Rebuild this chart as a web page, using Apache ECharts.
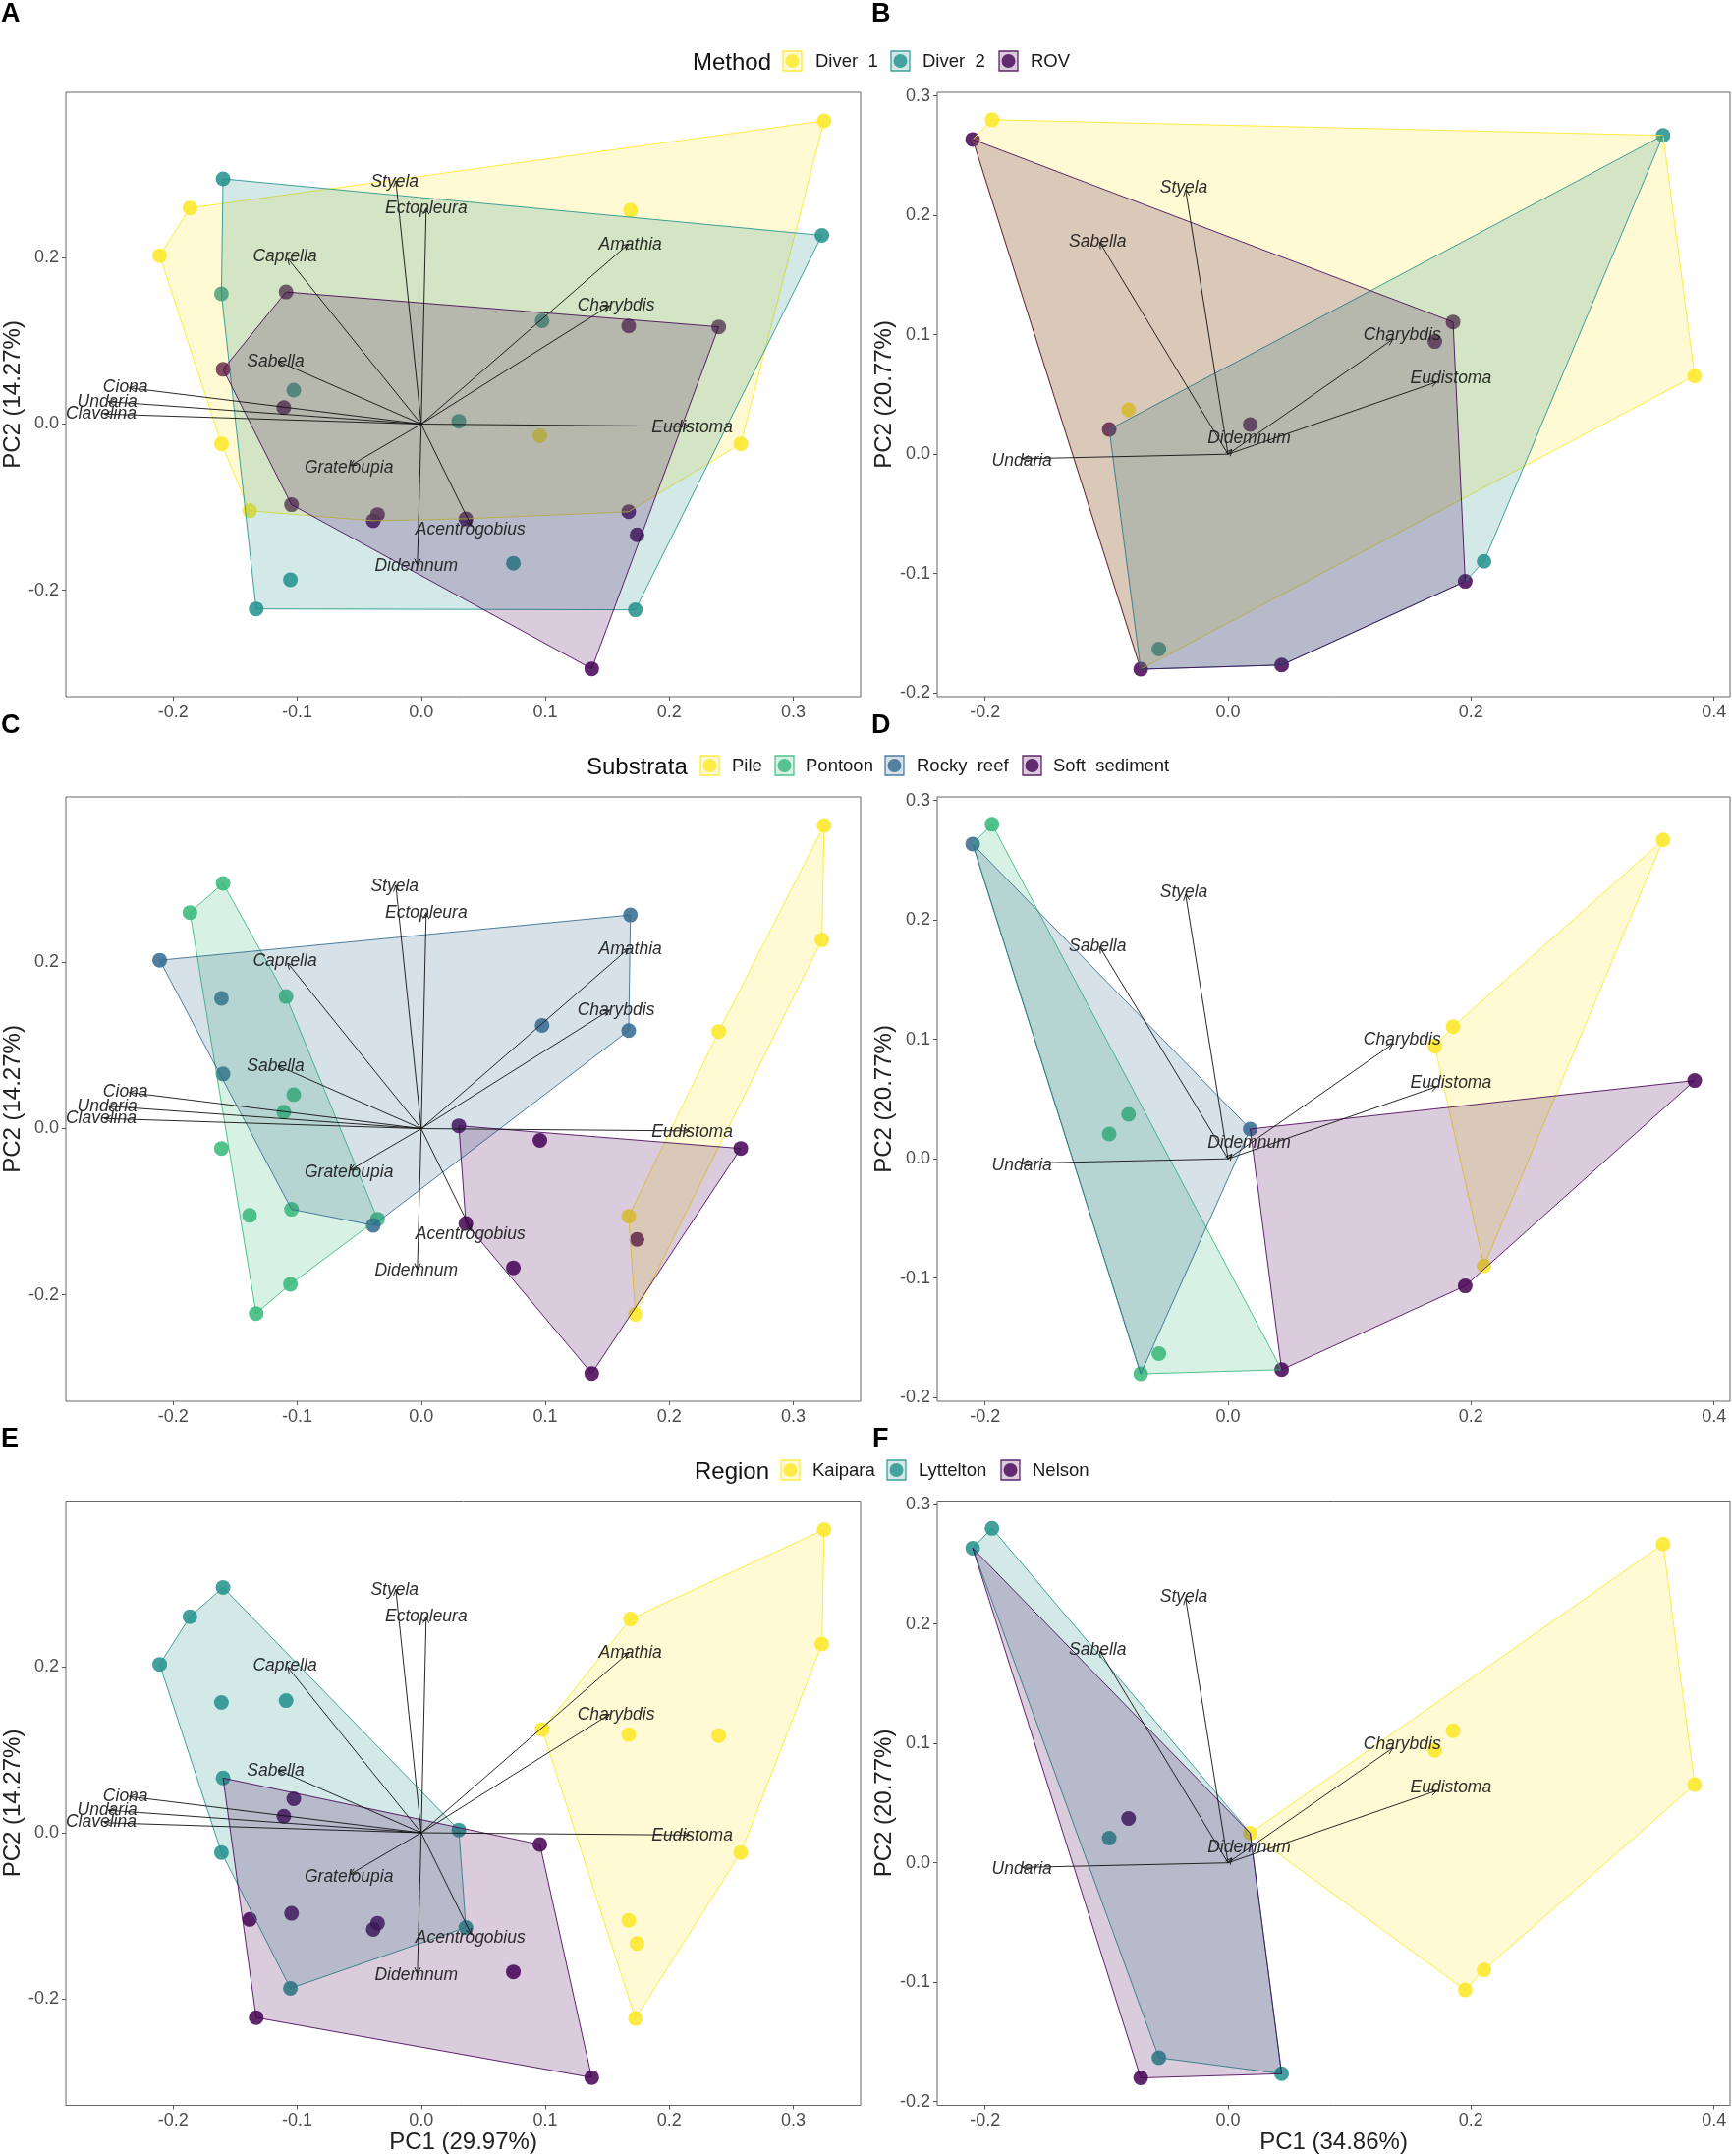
<!DOCTYPE html>
<html>
<head>
<meta charset="utf-8">
<script src="https://cdn.jsdelivr.net/npm/echarts@6/dist/echarts.min.js"></script>
<style>
html,body{margin:0;padding:0;background:#fff}
#main{width:1763px;height:2194px}
</style>
</head>
<body>
<div id="main"></div>
<script>
// site scores, left column (ids 1..30)
var pc1Left = [0.3249,0.1687,0.0975,0.1673,0.2399,0.3231,0.2577,0.1673,0.1740,0.1727,
  -0.1598,-0.1865,-0.2109,-0.1611,-0.1090,-0.1598,-0.1611,0.0303,0.0360,-0.1055,
  -0.1028,-0.1108,0.0957,-0.1384,-0.1046,-0.0352,-0.0387,0.0743,-0.1331,0.1375];
var pc2Left = [0.3648,0.2570,0.1243,0.1180,0.1169,0.2270,-0.0238,-0.1055,-0.1333,-0.2235,
  0.2950,0.2599,0.2026,0.1566,0.1589,0.0658,-0.0238,0.0034,-0.1140,-0.1872,
  0.0409,0.0199,-0.0142,-0.1044,-0.0970,-0.1089,-0.1163,-0.1674,-0.2224,-0.2945];
// site scores, right column (ids 1..14)
var pc1Right = [-0.1943,-0.2102,0.3581,0.3841,0.1852,0.1702,-0.0819,-0.0978,0.0182,0.2107,0.1952,0.0441,-0.0569,-0.0719];
var pc2Right = [0.2801,0.2636,0.2670,0.0655,0.1107,0.0943,0.0372,0.0207,0.0249,-0.0897,-0.1065,-0.1766,-0.1632,-0.1801];

// loadings
var speciesLeft = ['Styela','Ectopleura','Caprella','Amathia','Charybdis','Sabella','Ciona','Undaria','Clavelina','Eudistoma','Grateloupia','Acentrogobius','Didemnum'];
var tipXLeft = [-0.0205,0.0040,-0.1077,0.1673,0.1518,-0.1153,-0.2354,-0.2523,-0.2554,0.2163,-0.0574,0.0405,-0.0031];
var tipYLeft = [0.2927,0.2597,0.1992,0.2168,0.1425,0.0754,0.0435,0.0270,0.0121,-0.0028,-0.0501,-0.1227,-0.1695];
var labelXLeft = [-0.0214,0.0040,-0.1099,0.1687,0.1571,-0.1175,-0.2385,-0.2532,-0.2581,0.2185,-0.0583,0.0396,-0.0040];
var labelYLeft = [0.2916,0.2597,0.2014,0.2162,0.1420,0.0748,0.0440,0.0270,0.0127,-0.0039,-0.0528,-0.1271,-0.1711];
var speciesRight = ['Styela','Sabella','Charybdis','Eudistoma','Didemnum','Undaria'];
var tipXRight = [-0.0350,-0.1056,0.1356,0.1720,0.0030,-0.1693];
var tipYRight = [0.2215,0.1774,0.0962,0.0605,0.0040,-0.0038];
var labelXRight = [-0.0364,-0.1074,0.1433,0.1834,0.0173,-0.1697];
var labelYRight = [0.2230,0.1782,0.0996,0.0632,0.0130,-0.0057];

// legend levels
var methodLevels = ['Diver  1','Diver  2','ROV'];
var substrataLevels = ['Pile','Pontoon','Rocky  reef','Soft  sediment'];
var regionLevels = ['Kaipara','Lyttelton','Nelson'];

// which site belongs to which level, per panel
var pointsA = [[1,2,12,13,17,24,23,7],[11,6,14,21,3,18,28,20,29,10],[15,16,22,4,5,25,26,27,19,8,9,30]];
var hullsA = [[1,12,13,17,24,27,19,8,7],[11,6,10,29,14],[15,5,30,25,16]];
var pointsB = [[1,4,7],[3,10,13],[2,5,6,8,9,11,12,14]];
var hullsB = [[1,3,4,14,2],[3,10,11,12,14,8],[2,5,11,12,14]];
var pointsC = [[1,6,5,8,10],[11,12,15,21,22,17,24,25,26,20,29],[13,2,4,3,14,16,27],[18,23,7,9,19,28,30]];
var hullsC = [[1,6,10,8,5],[11,15,26,20,29,12],[13,2,4,27,25],[18,7,30,19]];
var pointsD = [[3,5,6,10],[1,7,8,13,14],[2,9],[4,11,12]];
var hullsD = [[3,10,6,5],[1,12,14,2],[2,9,14],[9,4,11,12]];
var pointsE = [[1,2,3,4,5,6,7,8,9,10],[11,12,13,14,15,16,17,18,19,20],[21,22,23,24,25,26,27,28,29,30]];
var hullsE = [[1,6,7,10,3,2],[11,18,19,20,17,13,12],[16,23,30,29]];
var pointsF = [[3,4,5,6,9,10,11],[1,2,8,12,13],[7,14]];
var hullsF = [[9,3,4,10,11],[1,9,12,13,2],[2,9,12,14]];

// axis ticks
var xTicksLeft = [-0.2,-0.1,0,0.1,0.2,0.3];
var yTicksLeft = [-0.2,0,0.2];
var xTicksRight = [-0.2,0,0.2,0.4];
var yTicksRight = [-0.2,-0.1,0,0.1,0.2,0.3];

var viridis3 = ['#FDE725','#21908C','#440154'];
var viridis4 = ['#FDE725','#35B779','#31688E','#440154'];
var fontName = '"Liberation Sans", Arial, sans-serif';

var colX = {left:{x:67,w:809},right:{x:954,w:807}};
var rowY = [{y:94,h:615},{y:811,h:615},{y:1527.5,h:615}];
var leftScale = {xmin:-0.2866,xmax:0.3543,ymin:-0.3280,ymax:0.3990};
var rightScale = {xmin:-0.2394,xmax:0.4132,ymin:-0.2031,ymax:0.3030};

var grids=[],xAxes=[],yAxes=[],series=[];

function addPanel(col,row,points,hulls,colors){
	var isLeft = col=='left';
	var idx = grids.length;
	var sc = isLeft?leftScale:rightScale;
	var px = isLeft?pc1Left:pc1Right, py = isLeft?pc2Left:pc2Right;
	var c = colX[col], r = rowY[row];
	grids.push({show:true,left:c.x,top:r.y,width:c.w,height:r.h,borderColor:'#666',borderWidth:1,backgroundColor:'#fff',containLabel:false});
	var xt = isLeft?xTicksLeft:xTicksRight, yt = isLeft?yTicksLeft:yTicksRight;
	var lineSt = {show:false,onZero:false};
	var tickSt = {color:'#555',width:1};
	var labelSt = {fontFamily:fontName,fontSize:18,color:'#4d4d4d'};
	xAxes.push({
		gridIndex:idx,type:'value',min:sc.xmin,max:sc.xmax,
		name:row==2?(isLeft?'PC1 (29.97%)':'PC1 (34.86%)'):'',
		nameLocation:'middle',nameGap:25,
		nameTextStyle:{fontFamily:fontName,fontSize:24,color:'#222'},
		splitLine:{show:false},axisLine:lineSt,
		axisTick:{show:true,length:4,lineStyle:tickSt,customValues:xt},
		axisLabel:Object.assign({margin:7,customValues:xt,formatter:function(v){return v.toFixed(1)}},labelSt)
	});
	yAxes.push({
		gridIndex:idx,type:'value',min:sc.ymin,max:sc.ymax,
		name:isLeft?'PC2 (14.27%)':'PC2 (20.77%)',
		nameLocation:'middle',nameGap:isLeft?41:42,
		nameTextStyle:{fontFamily:fontName,fontSize:24,color:'#222',verticalAlign:'middle'},
		splitLine:{show:false},axisLine:lineSt,
		axisTick:{show:true,length:4,lineStyle:tickSt,customValues:yt},
		axisLabel:Object.assign({margin:7,padding:[4,0,0,0],customValues:yt,formatter:function(v){return v.toFixed(1)}},labelSt)
	});
	// points first, the hulls get painted on top of them
	points.forEach(function(ids,k){
		series.push({
			type:'scatter',xAxisIndex:idx,yAxisIndex:idx,z:2,silent:true,symbolSize:15,
			itemStyle:{color:colors[k],opacity:0.85},
			data:ids.map(function(id){return [px[id-1],py[id-1]]})
		});
	});
	hulls.forEach(function(ids,k){
		series.push({
			type:'custom',xAxisIndex:idx,yAxisIndex:idx,z:3,silent:true,
			encode:{x:0,y:1},
			data:ids.map(function(id){return [px[id-1],py[id-1]]}),
			renderItem:function(params,api){
				if(params.dataIndex!==0) return;
				var pts = ids.map(function(id){return api.coord([px[id-1],py[id-1]])});
				return {type:'group',children:[
					{type:'polygon',shape:{points:pts},style:{fill:colors[k],opacity:0.2}},
					{type:'polygon',shape:{points:pts},style:{fill:'none',stroke:colors[k],lineWidth:1,opacity:0.85}}
				]};
			}
		});
	});
	var names = isLeft?speciesLeft:speciesRight;
	var tx = isLeft?tipXLeft:tipXRight, ty = isLeft?tipYLeft:tipYRight;
	var lx = isLeft?labelXLeft:labelXRight, ly = isLeft?labelYLeft:labelYRight;
	series.push({
		type:'custom',xAxisIndex:idx,yAxisIndex:idx,z:4,silent:true,
		encode:{x:0,y:1},
		data:names.map(function(n,i){return [tx[i],ty[i]]}),
		renderItem:function(params,api){
			var i = params.dataIndex;
			var o = api.coord([0,0]), t = api.coord([tx[i],ty[i]]), l = api.coord([lx[i],ly[i]]);
			var a = Math.atan2(t[1]-o[1],t[0]-o[0]), h = 7, sp = 0.45;
			var st = {stroke:'#111',lineWidth:1,fill:'none',opacity:0.9};
			return {type:'group',children:[
				{type:'line',shape:{x1:o[0],y1:o[1],x2:t[0],y2:t[1]},style:st},
				{type:'polyline',shape:{points:[[t[0]-h*Math.cos(a-sp),t[1]-h*Math.sin(a-sp)],t,[t[0]-h*Math.cos(a+sp),t[1]-h*Math.sin(a+sp)]]},style:st},
				{type:'text',x:l[0],y:l[1],style:{text:names[i],fontFamily:fontName,fontStyle:'italic',fontSize:17.5,fill:'#222',align:'center',verticalAlign:'middle',opacity:0.95}}
			]};
		}
	});
}

addPanel('left',0,pointsA,hullsA,viridis3);
addPanel('right',0,pointsB,hullsB,viridis3);
addPanel('left',1,pointsC,hullsC,viridis4);
addPanel('right',1,pointsD,hullsD,viridis4);
addPanel('left',2,pointsE,hullsE,viridis3);
addPanel('right',2,pointsF,hullsF,viridis3);

// legends and panel letters
var graphics=[];
function txt(s,x,y,size,extra){
	graphics.push({type:'text',x:x,y:y,z:10,silent:true,style:Object.assign({text:s,fontFamily:fontName,fontSize:size,fill:'#1a1a1a',align:'left',verticalAlign:'middle'},extra||{})});
}
function legendRow(title,titleX,y,levels,colors,keyX,textX){
	txt(title,titleX,y,24,{fill:'#111'});
	levels.forEach(function(s,i){
		var kx=keyX[i],ky=y-12,kw=19,kh=20;
		graphics.push({type:'rect',z:10,silent:true,shape:{x:kx,y:ky,width:kw,height:kh},style:{fill:colors[i],opacity:0.2}});
		graphics.push({type:'rect',z:10,silent:true,shape:{x:kx,y:ky,width:kw,height:kh},style:{fill:'none',stroke:colors[i],lineWidth:1.3,opacity:0.85}});
		graphics.push({type:'circle',z:11,silent:true,shape:{cx:kx+kw/2,cy:ky+kh/2,r:7},style:{fill:colors[i],opacity:0.8}});
		txt(s,textX[i],y-1,18.5);
	});
}
legendRow('Method',705,64,methodLevels,viridis3,[797,907,1017],[830,939,1049]);
legendRow('Substrata',597,781,substrataLevels,viridis4,[713,789,901,1041],[745,820,933,1072]);
legendRow('Region',707,1498,regionLevels,viridis3,[795,903,1019],[827,935,1051]);

var letters=[['A',1,15],['B',887,15],['C',1,739],['D',887,739],['E',1,1465],['F',888,1465]];
letters.forEach(function(l){txt(l[0],l[1],l[2],27,{fontWeight:'bold',fill:'#000'})});

var chart = echarts.init(document.getElementById('main'),null,{renderer:'canvas'});
chart.setOption({
	animation:false,
	backgroundColor:'#fff',
	grid:grids,xAxis:xAxes,yAxis:yAxes,series:series,graphic:graphics
});
</script>
</body>
</html>
